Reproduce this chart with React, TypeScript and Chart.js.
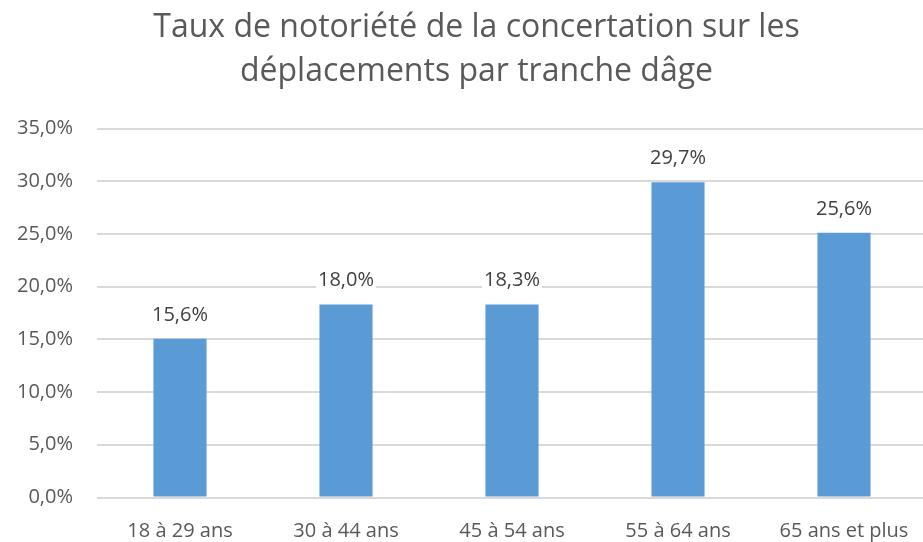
import React, { useEffect, useRef } from "react";
import { Chart, registerables } from "chart.js";

Chart.register(...registerables);

const titleLines = ["Taux de notoriété de la concertation sur les", "déplacements par tranche dâge"];
const categories = ["18 à 29 ans", "30 à 44 ans", "45 à 54 ans", "55 à 64 ans", "65 ans et plus"];
const barValues = [15.05, 18.3, 18.3, 29.9, 25.1];
const valueLabels = ["15,6%", "18,0%", "18,3%", "29,7%", "25,6%"];
const yTickMax = 35;
const yTickStep = 5;

const FONT = "'Open Sans', 'Noto Sans', sans-serif";

const labelPlugin = {
  id: "valueLabels",
  afterDatasetsDraw(chart: any) {
    const ctx = chart.ctx;
    const meta = chart.getDatasetMeta(0);
    ctx.save();
    ctx.font = `20px ${FONT}`;
    ctx.textAlign = "center";
    ctx.textBaseline = "middle";
    meta.data.forEach((bar: any, i: number) => {
      const text = valueLabels[i];
      const cy = bar.y - 25;
      const w = ctx.measureText(text).width + 4;
      ctx.fillStyle = "#ffffff";
      ctx.fillRect(bar.x - w / 2, cy - 11, w, 22);
      ctx.fillStyle = "#404040";
      ctx.fillText(text, bar.x, cy + 1);
    });
    ctx.restore();
  },
};

const titlePlugin = {
  id: "customTitle",
  afterDraw(chart: any) {
    const ctx = chart.ctx;
    const size = 32;
    const lh = 44;
    ctx.save();
    ctx.font = `${size}px ${FONT}`;
    ctx.fillStyle = "#595959";
    ctx.textAlign = "center";
    ctx.textBaseline = "middle";
    titleLines.forEach((line, i) => {
      ctx.fillText(line, 476.5, 6 + lh / 2 + i * lh);
    });
    ctx.restore();
  },
};

export default function App() {
  const ref = useRef<HTMLCanvasElement>(null);
  useEffect(() => {
    if (!ref.current) return;
    const chart = new Chart(ref.current, {
      type: "bar",
      data: {
        labels: categories,
        datasets: [
          {
            data: barValues,
            backgroundColor: "#5B9BD5",
            barPercentage: 0.32,
            categoryPercentage: 1,
          },
        ],
      },
      options: {
        responsive: false,
        animation: false,
        layout: { padding: { left: 0, right: 13, top: 128.5, bottom: 0 } },
        plugins: {
          legend: { display: false },
          tooltip: { enabled: false },
          title: { display: false },
        },
        scales: {
          x: {
            grid: { display: false },
            border: { display: false },
            ticks: {
              color: "#595959",
              font: { family: FONT, size: 20 },
              padding: 14,
              maxRotation: 0,
              autoSkip: false,
            },
            afterFit: (s: any) => {
              s.height = 44.5;
            },
          },
          y: {
            min: 0,
            max: yTickMax,
            grid: { color: "#d9d9d9", lineWidth: 2, drawTicks: false },
            border: { display: false },
            ticks: {
              stepSize: yTickStep,
              color: "#595959",
              font: { family: FONT, size: 20 },
              padding: 24,
              callback: (v: any) => Number(v).toFixed(1).replace(".", ",") + "%",
            },
            afterFit: (s: any) => {
              s.width = 97;
            },
          },
        },
      },
      plugins: [labelPlugin, titlePlugin],
    });
    return () => chart.destroy();
  }, []);
  return (
    <div style={{ position: "fixed", left: 0, top: 0, width: 923, height: 542, overflow: "hidden", background: "#fff" }}>
      <canvas ref={ref} width={940} height={542} style={{ display: "block" }} />
    </div>
  );
}
